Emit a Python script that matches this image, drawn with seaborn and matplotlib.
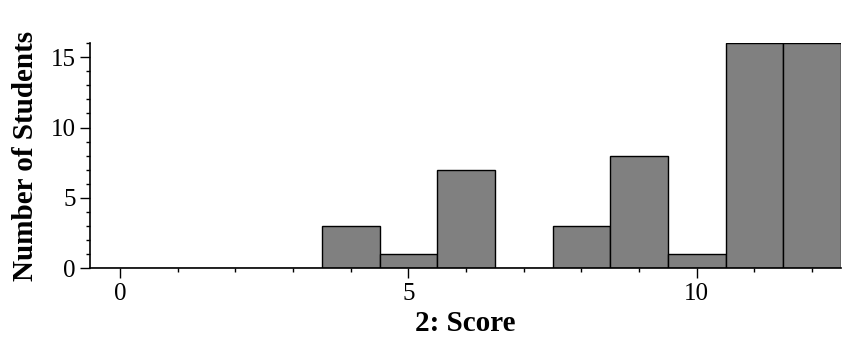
import matplotlib
matplotlib.use("Agg")
import matplotlib.pyplot as plt
import seaborn as sns
import pandas as pd
from matplotlib.ticker import MultipleLocator

scores = [0, 1, 2, 3, 4, 5, 6, 7, 8, 9, 10, 11, 12]
counts = [0, 0, 0, 0, 3, 1, 7, 0, 3, 8, 1, 16, 16]
x_label = "2: Score"
y_label = "Number of Students"

sns.set_style("ticks")
plt.rcParams['font.family'] = ['Liberation Serif', 'DejaVu Serif']
plt.rcParams['text.color'] = 'black'
plt.rcParams['axes.labelcolor'] = 'black'
plt.rcParams['xtick.color'] = 'black'
plt.rcParams['ytick.color'] = 'black'
plt.rcParams['xtick.labelcolor'] = 'black'
plt.rcParams['ytick.labelcolor'] = 'black'

df = pd.DataFrame({"score": scores, "count": counts})

fig = plt.figure(figsize=(8.58, 3.51), dpi=100)
ax = fig.add_axes([0.105, 0.236, 0.875, 0.641])

sns.histplot(data=df, x="score", weights="count", discrete=True,
             color="#808080", alpha=1.0, edgecolor="black", linewidth=1.0, ax=ax)

ax.set_xlim(-0.52, 12.5)
ax.set_ylim(0, 16)
ax.xaxis.set_major_locator(MultipleLocator(5))
ax.xaxis.set_minor_locator(MultipleLocator(1))
ax.yaxis.set_major_locator(MultipleLocator(5))
ax.yaxis.set_minor_locator(MultipleLocator(1))
ax.tick_params(axis="both", which="major", length=7, width=1.0, labelsize=18,
               color="black", labelcolor="black")
ax.tick_params(axis="both", which="minor", length=3, width=1.0, color="black")
sns.despine(ax=ax)
for s in ["left", "bottom"]:
    ax.spines[s].set_linewidth(1.2)
    ax.spines[s].set_color("black")

ax.set_xlabel(x_label, fontsize=21, fontweight="bold", labelpad=4, color="black")
ax.set_ylabel(y_label, fontsize=21, fontweight="bold", labelpad=8, color="black")

fig.savefig("out.png", dpi=100)
